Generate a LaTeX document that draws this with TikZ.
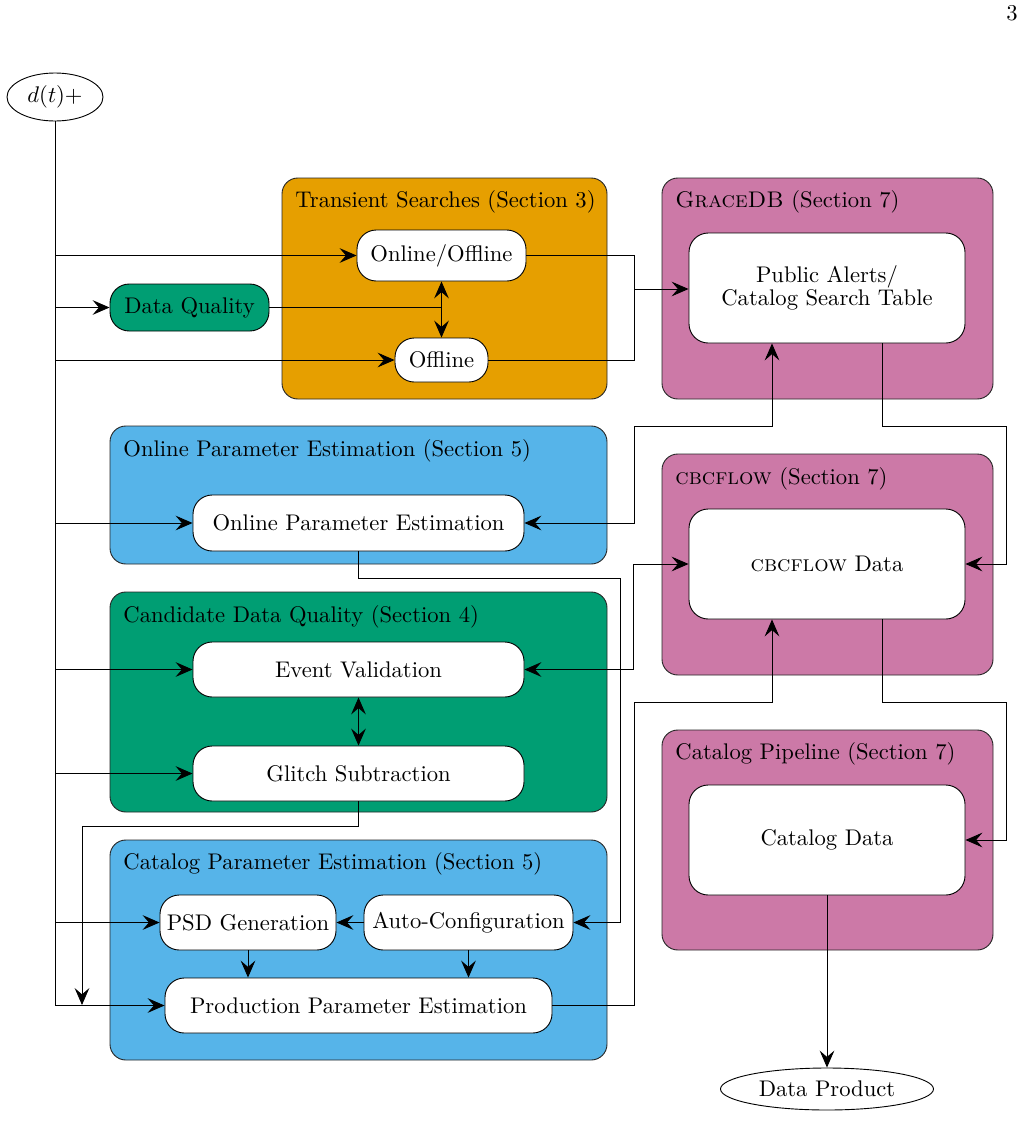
\documentclass[tikz,border=0pt]{standalone}
\usetikzlibrary{arrows.meta,shapes.geometric,fit,calc}
\definecolor{corange}{HTML}{E69F00}
\definecolor{cgreen}{HTML}{009E73}
\definecolor{cblue}{HTML}{56B4E9}
\definecolor{cpurple}{HTML}{CC79A7}
\begin{document}
\begin{tikzpicture}[x=0.442pt,y=-0.442pt,
  >={Stealth[length=7.5pt,width=6.5pt,inset=2.8pt]},
  grp/.style={draw=black!85, rounded corners=7pt, inner sep=0pt},
  gtitle/.style={anchor=west, inner sep=0pt},
  inbox/.style={draw, fill=white, rounded corners=8.5pt, align=center, inner sep=0pt},
  wh/.style 2 args={minimum width=#1*0.442pt, minimum height=#2*0.442pt}]
\useasboundingbox (0,0) rectangle (1023,1141);

% page number
\node (pg) at (1012,13) {3};

% group containers
\node[grp, fill=corange, fit={(282,178) (607,399)}] (tsbox) {};
\node[grp, fill=cpurple, fit={(662,178) (993,399)}] (gdbbox) {};
\node[grp, fill=cblue, fit={(110,426) (607,564)}] (opebox) {};
\node[grp, fill=cpurple, fit={(662,454) (993,675)}] (cfbox) {};
\node[grp, fill=cgreen, fit={(110,592) (607,812)}] (cdqbox) {};
\node[grp, fill=cpurple, fit={(662,730) (993,950)}] (cpbox) {};
\node[grp, fill=cblue, fit={(110,840) (607,1060)}] (cpebox) {};

% titles
\node[gtitle] (tst) at (295,202) {Transient Searches (Section 3)};
\node[gtitle] (gdbt) at (675,202) {\textsc{GraceDB} (Section 7)};
\node[gtitle] (opet) at (123,451) {Online Parameter Estimation (Section 5)};
\node[gtitle] (cft) at (675,479) {\textsc{cbcflow} (Section 7)};
\node[gtitle] (cdqt) at (123,617) {Candidate Data Quality (Section 4)};
\node[gtitle] (cpt) at (675,754) {Catalog Pipeline (Section 7)};
\node[gtitle] (cpet) at (123,864) {Catalog Parameter Estimation (Section 5)};

% inner nodes
\node[inbox, wh={169}{51}] (onoff) at (441.5,255.5) {Online/Offline};
\node[inbox, wh={159}{47}, fill=cgreen] (dq) at (189.5,307.5) {Data Quality};
\node[inbox, wh={93}{44}] (off) at (441.5,360) {Offline};
\node[inbox, wh={276}{110}] (pa) at (827,288) {Public Alerts/\\[-2pt]Catalog Search Table};
\node[inbox, wh={331}{56}] (ope) at (358.5,523) {Online Parameter Estimation};
\node[inbox, wh={276}{110}] (cf) at (827,564) {\textsc{cbcflow} Data};
\node[inbox, wh={331}{55}] (ev) at (358.5,669.5) {Event Validation};
\node[inbox, wh={331}{55}] (gs) at (358.5,773.5) {Glitch Subtraction};
\node[inbox, wh={276}{110}] (cd) at (827,840) {Catalog Data};
\node[inbox, wh={176}{55}] (psd) at (248,922.5) {PSD Generation};
\node[inbox, wh={209}{55}] (ac) at (468.5,922.5) {Auto-Configuration};
\node[inbox, wh={387}{55}] (ppe) at (358.5,1005.5) {Production Parameter Estimation};

% ellipses
\node[draw, ellipse, wh={96}{48}, inner sep=0pt] (d) at (55,97) {$d(t)$+};
\node[draw, ellipse, wh={213}{42}, inner sep=0pt] (dp) at (827,1089) {Data Product};

% trunk branches
\draw[->] (d.south) |- (onoff.west);
\draw[->] (d.south) |- (dq.west);
\draw[->] (d.south) |- (off.west);
\draw[->] (d.south) |- (ope.west);
\draw[->] (d.south) |- (ev.west);
\draw[->] (d.south) |- (gs.west);
\draw[->] (d.south) |- (psd.west);
\draw[->] (d.south) |- (ppe.west);

% data quality to transient searches
\coordinate (j) at (onoff.south |- dq.east);
\draw (dq.east) -- (j);
\draw[->] (j) -- (onoff.south);
\draw[->] (j) -- (off.north);

% transient searches to GraceDB
\coordinate (tsj) at (634,289);
\draw (onoff.east) -| (tsj);
\draw (off.east) -| (tsj);
\draw[->] (tsj) -- (tsj -| pa.west);

% GraceDB <-> online PE
\draw[<->] ($(pa.south)+(-55,0)$) |- (634,426) |- (ope.east);
% GraceDB -> cbcflow
\draw[->] ($(pa.south)+(55,0)$) |- (1006,426) |- (cf.east);
% online PE -> auto-config
\draw[->] (ope.south) |- (620,578) |- (ac.east);
% event validation <-> cbcflow
\draw[<->] (ev.east) -| ($(cf.west)+(-55,0)$) -- (cf.west);
% event validation <-> glitch subtraction
\draw[<->] (ev.south) -- (gs.north);
% glitch subtraction -> production
\coordinate (gsend) at (82,1005);
\draw[->] (gs.south) |- (358,826) -| (gsend);
% production -> cbcflow
\draw[->] (ppe.east) -| (634,702) -| ($(cf.south)+(-55,0)$);
% cbcflow -> catalog data
\draw[->] ($(cf.south)+(55,0)$) |- (1006,702) |- (cd.east);
% catalog PE internal
\draw[->] (ac.west) -- (psd.east);
\draw[->] (psd.south) -- (psd.south |- ppe.north);
\draw[->] (ac.south) -- (ac.south |- ppe.north);
% catalog data -> data product
\draw[->] (cd.south) -- (dp.north);
\end{tikzpicture}
\end{document}
